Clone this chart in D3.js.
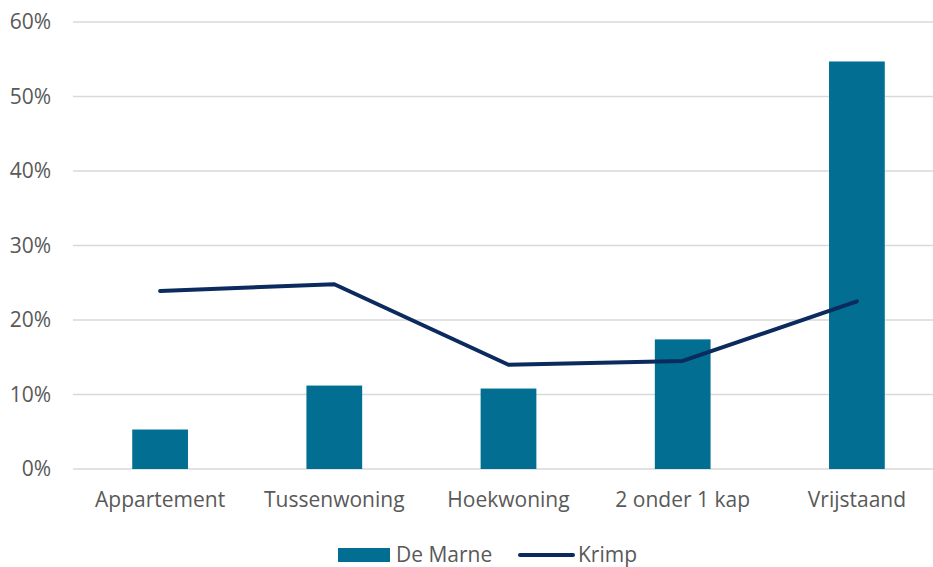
<!DOCTYPE html>
<html>
<head>
<meta charset="utf-8">
<script src="https://cdn.jsdelivr.net/npm/d3@7"></script>
<style>
    body { margin: 0; background: #fff; }
    svg { display: block; font-family: "Open Sans", sans-serif; }
</style>
</head>
<body>
<svg id="svg_main"></svg>
<script>
const categories = ['Appartement', 'Tussenwoning', 'Hoekwoning', '2 onder 1 kap', 'Vrijstaand'];
const deMarne = [0.053, 0.112, 0.108, 0.174, 0.547];
const krimp = [0.239, 0.248, 0.14, 0.145, 0.225];
const yTicks = [0, 0.1, 0.2, 0.3, 0.4, 0.5, 0.6];
const seriesNames = ['De Marne', 'Krimp'];

const width = 933, height = 567;
const barColor = '#026f92', lineColor = '#0b2a5e', textColor = '#595959';
const fontSize = 21;

const svg = d3.select('#svg_main')
    .attr('width', width)
    .attr('height', height);

const x = d3.scaleBand()
    .domain(categories)
    .range([73, 944])
    .paddingInner(0.68)
    .paddingOuter(0.34);

const y = d3.scaleLinear()
    .domain([0, 0.6])
    .range([469, 22]);

// gridlines
svg.append('g')
    .attr('class', 'grid')
    .selectAll('line')
    .data(yTicks)
    .join('line')
    .attr('x1', 73)
    .attr('x2', 944)
    .attr('y1', d => y(d))
    .attr('y2', d => y(d))
    .attr('stroke', '#d9d9d9')
    .attr('stroke-width', 1.5);

// y axis labels
const yAxis = d3.axisLeft(y)
    .tickValues(yTicks)
    .tickFormat(d3.format('.0%'))
    .tickSize(0)
    .tickPadding(0);
svg.append('g')
    .attr('transform', 'translate(51,0)')
    .call(yAxis)
    .call(g => g.select('.domain').remove())
    .selectAll('text')
    .attr('font-family', '"Open Sans", sans-serif')
    .attr('font-size', fontSize)
    .attr('fill', textColor);

// bars
svg.append('g')
    .selectAll('rect')
    .data(deMarne)
    .join('rect')
    .attr('x', (d, i) => x(categories[i]))
    .attr('width', x.bandwidth())
    .attr('y', d => y(d))
    .attr('height', d => y(0) - y(d))
    .attr('fill', barColor);

// line
const line = d3.line()
    .x((d, i) => x(categories[i]) + x.bandwidth() / 2)
    .y(d => y(d));
svg.append('path')
    .datum(krimp)
    .attr('d', line)
    .attr('fill', 'none')
    .attr('stroke', lineColor)
    .attr('stroke-width', 4)
    .attr('stroke-linecap', 'round')
    .attr('stroke-linejoin', 'round');

// x axis labels
const xAxis = d3.axisBottom(x).tickSize(0).tickPadding(0);
svg.append('g')
    .attr('transform', 'translate(0,507)')
    .call(xAxis)
    .call(g => g.select('.domain').remove())
    .selectAll('text')
    .attr('dy', 0)
    .attr('font-family', '"Open Sans", sans-serif')
    .attr('font-size', fontSize)
    .attr('fill', textColor);

// legend
const legend = svg.append('g').attr('transform', 'translate(0,555)');
legend.append('rect')
    .attr('x', 338).attr('y', -7)
    .attr('width', 52).attr('height', 14)
    .attr('fill', barColor);
legend.append('line')
    .attr('x1', 520).attr('x2', 573)
    .attr('y1', 0).attr('y2', 0)
    .attr('stroke', lineColor)
    .attr('stroke-width', 4)
    .attr('stroke-linecap', 'round');
legend.selectAll('text')
    .data(seriesNames)
    .join('text')
    .attr('x', (d, i) => i === 0 ? 396 : 578)
    .attr('y', 0)
    .attr('dy', '0.35em')
    .attr('font-size', fontSize)
    .attr('fill', textColor)
    .text(d => d);
</script>
</body>
</html>
